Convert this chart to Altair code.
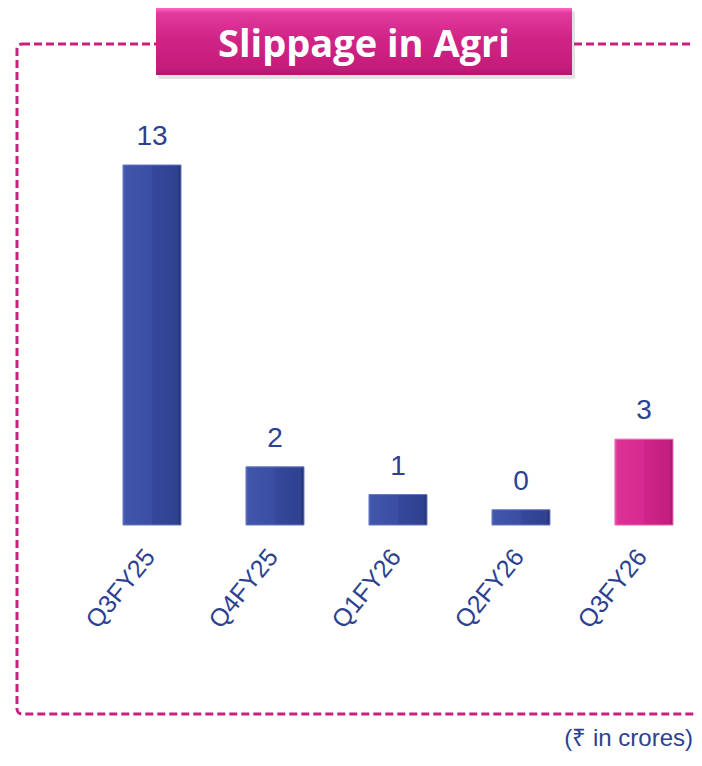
import altair as alt
import pandas as pd

# ---- data ----
quarters = ["Q3FY25", "Q4FY25", "Q1FY26", "Q2FY26", "Q3FY26"]
values = [13.0, 2.1, 1.1, 0.55, 3.1]
labels = ["13", "2", "1", "0", "3"]
highlight = [False, False, False, False, True]

title_text = "Slippage in Agri"
unit_text = "(\u20b9 in crores)"

# ---- styles ----
TXT_BLUE = "#2D4191"
BORDER = "#C8217F"

df = pd.DataFrame({"quarter": quarters, "value": values, "label": labels, "hl": highlight})
one = pd.DataFrame({"d": [0]})

def stops(pairs):
    return [alt.GradientStop(color=c, offset=o) for o, c in pairs]

blue_grad = alt.Gradient(
    gradient="linear", x1=0, x2=1, y1=0, y2=0,
    stops=stops([(0, "#5266B8"), (0.04, "#4155AA"), (0.5, "#3A4EA3"),
                 (0.5, "#35489C"), (0.94, "#2F418F"), (1, "#1F2D6C")]))
pink_grad = alt.Gradient(
    gradient="linear", x1=0, x2=1, y1=0, y2=0,
    stops=stops([(0, "#E853A8"), (0.05, "#DC3196"), (0.5, "#D72A90"),
                 (0.5, "#D0248A"), (0.94, "#C21E80"), (1, "#9A1764")]))
title_grad = alt.Gradient(
    gradient="linear", x1=0, x2=0, y1=0, y2=1,
    stops=stops([(0, "#FF66C6"), (0.08, "#E2399D"), (0.45, "#D02587"),
                 (0.9, "#C41C7B"), (1, "#B0176D")]))

x_enc = alt.X(
    "quarter:N", sort=quarters,
    scale=alt.Scale(range=[44.5, 717.45], paddingInner=0.5285, paddingOuter=0.5),
    axis=alt.Axis(title=None, labelAngle=-51, labelAlign="right", labelBaseline="middle",
                  labelFontSize=25, labelFont="Liberation Sans", labelColor=TXT_BLUE,
                  labelPadding=27, labelOffset=-2, labelOverlap=False,
                  ticks=False, domain=False, grid=False))
y_enc = alt.Y("value:Q", scale=alt.Scale(domain=[0, 17.37], nice=False), axis=None)

base = alt.Chart(df).encode(x=x_enc, y=y_enc)

border = alt.Chart(one).mark_rect(
    fillOpacity=0, stroke=BORDER, strokeWidth=3, strokeDash=[8, 4], cornerRadius=5
).encode(x=alt.value(0), x2=alt.value(740), y=alt.value(0), y2=alt.value(670))

title_shadow = alt.Chart(one).mark_rect(color="#7A7A7A", opacity=0.22, cornerRadius=2).encode(
    x=alt.value(141), x2=alt.value(558), y=alt.value(-33), y2=alt.value(35))
title_box = alt.Chart(one).mark_rect(color=title_grad).encode(
    x=alt.value(139), x2=alt.value(555), y=alt.value(-36), y2=alt.value(31))
title_lbl = alt.Chart(one).mark_text(
    text=title_text, font="Open Sans", fontWeight="bold", fontSize=38, color="white",
    align="center", baseline="alphabetic").encode(x=alt.value(347), y=alt.value(13))

bars_blue = base.transform_filter("!datum.hl").mark_bar(
    color=blue_grad, stroke="#6577C4", strokeWidth=1)
bars_pink = base.transform_filter("datum.hl").mark_bar(
    color=pink_grad, stroke="#E865B4", strokeWidth=1)

value_lbl = base.mark_text(
    baseline="alphabetic", dy=-20, fontSize=28, font="Liberation Sans", color=TXT_BLUE
).encode(text="label:N")

unit_lbl = alt.Chart(one).mark_text(
    text=unit_text, font="Liberation Sans", fontSize=24, color=TXT_BLUE,
    align="right", baseline="alphabetic").encode(x=alt.value(676), y=alt.value(702))

chart = alt.layer(
    border, title_shadow, title_box, title_lbl, bars_blue, bars_pink, value_lbl, unit_lbl
).properties(
    width=677, height=481,
    autosize=alt.AutoSizeParams(type="none"),
    padding={"left": 9, "top": 36, "right": 0, "bottom": 229},
    background="white",
).configure_view(strokeWidth=0)

chart.save("out.html", embed_options={"renderer": "svg", "actions": False})
